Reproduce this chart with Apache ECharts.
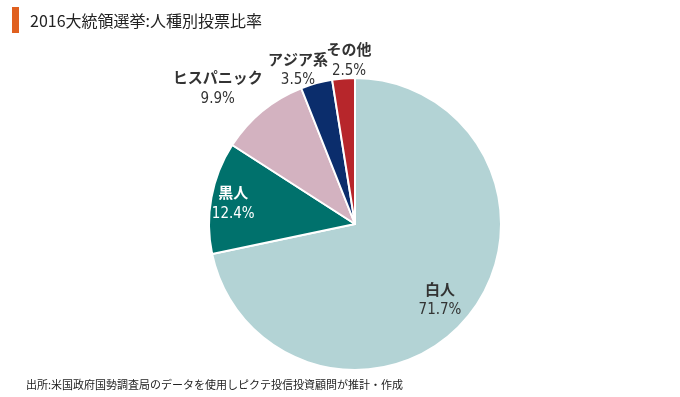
<!DOCTYPE html>
<html>
<head>
<meta charset="utf-8">
<script src="https://cdn.jsdelivr.net/npm/echarts@6/dist/echarts.min.js"></script>
<style>
  html, body { margin: 0; padding: 0; background: #fff; }
  #chart { width: 680px; height: 397px; }
</style>
</head>
<body>
<div id="chart"></div>
<script>
// データ
const names = ["白人", "黒人", "ヒスパニック", "アジア系", "その他"];
const values = [71.7, 12.4, 9.9, 3.5, 2.5];
const colors = ["#b3d3d5", "#00716c", "#d3b2c0", "#0b2d6c", "#b7262b"];
const labelColors = ["#333", "#fff", "#333", "#333", "#333"];
// ラベル位置の微調整 (inside からのずれ)
const labelOffsets = [[26, 28], [-47, -7], [-89, -77], [-37, -81], [0, -88]];

const chart = echarts.init(document.getElementById("chart"));

const numFont = "'DejaVu Sans Condensed', 'Liberation Sans Narrow', sans-serif";

const option = {
  animation: false,
  title: [
    {
      text: "2016大統領選挙:人種別投票比率",
      left: 25,
      top: 8,
      textStyle: { fontSize: 16, fontWeight: "normal", color: "#222", fontFamily: "'Noto Sans CJK JP', sans-serif" },
    },
    {
      text: "出所:米国政府国勢調査局のデータを使用しピクテ投信投資顧問が推計・作成",
      left: 21,
      top: 374,
      textStyle: { fontSize: 11, fontWeight: "normal", color: "#222", fontFamily: "'Noto Sans CJK JP', sans-serif" },
    },
  ],
  graphic: [
    { type: "rect", left: 12, top: 7, shape: { width: 7, height: 26 }, style: { fill: "#e0601f" } },
  ],
  series: [
    {
      type: "pie",
      center: [355, 224],
      radius: [0, 146],
      startAngle: 90,
      clockwise: true,
      avoidLabelOverlap: false,
      labelLayout: { hideOverlap: false },
      itemStyle: { borderColor: "#fff", borderWidth: 2 },
      labelLine: { show: false },
      data: names.map((n, i) => ({
        name: n,
        value: values[i],
        itemStyle: { color: colors[i] },
        label: {
          position: "inside",
          offset: labelOffsets[i],
          formatter: "{n|{b}}\n{v|{c}%}",
          rich: {
            n: { fontSize: 15, fontWeight: "bold", color: labelColors[i], fontFamily: "'Noto Sans CJK JP', sans-serif", lineHeight: 21, align: "center" },
            v: { fontSize: 15, color: labelColors[i], fontFamily: numFont, lineHeight: 21, align: "center" },
          },
        },
      })),
    },
  ],
};

chart.setOption(option);
</script>
</body>
</html>
